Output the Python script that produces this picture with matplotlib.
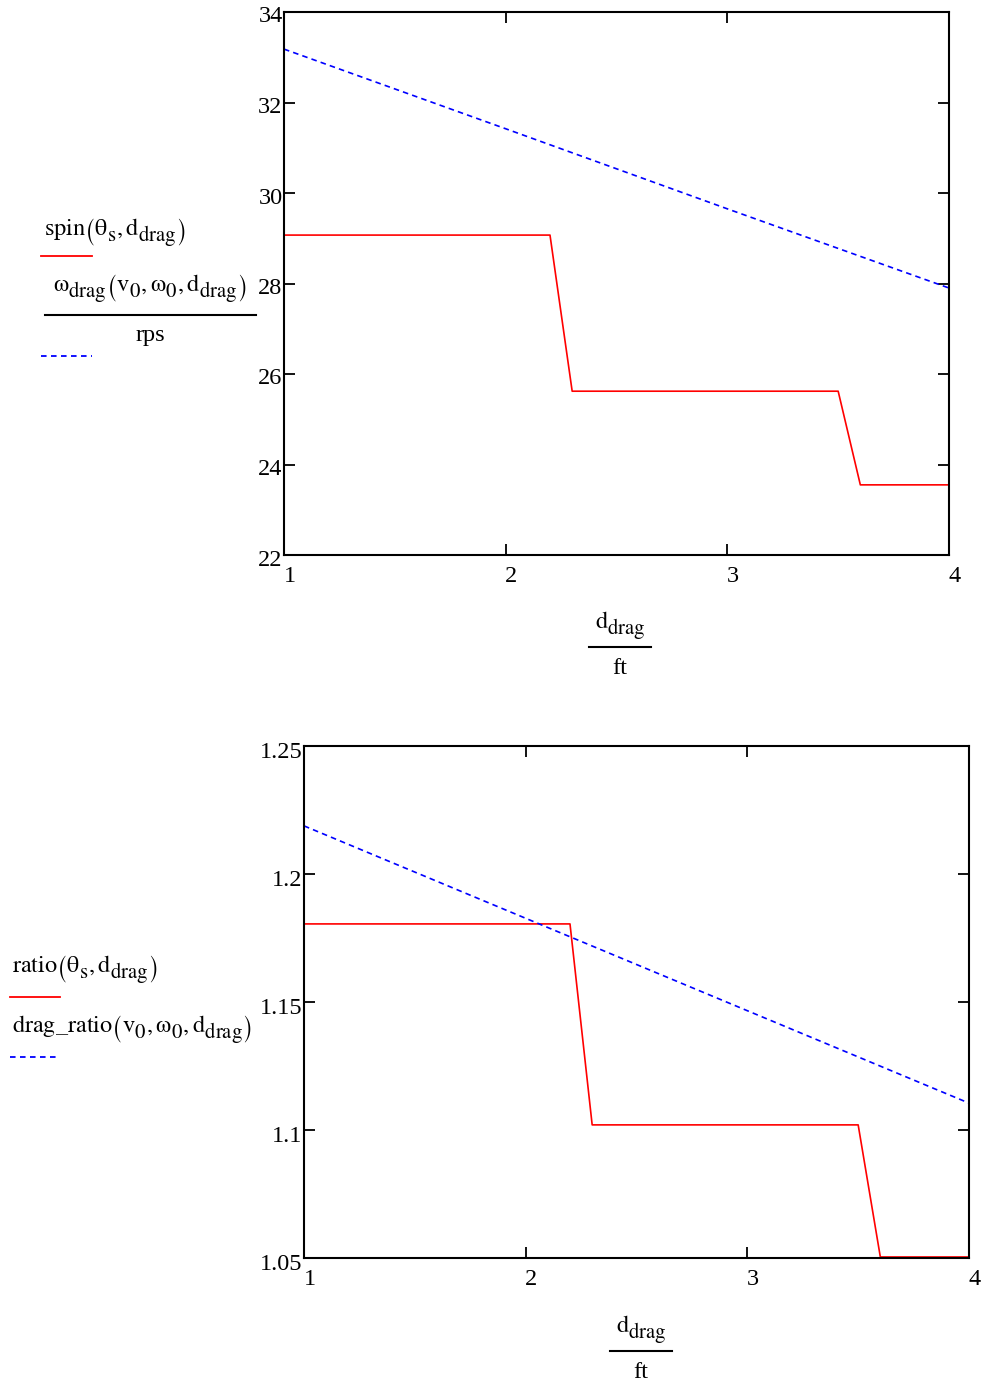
import matplotlib.pyplot as plt
from matplotlib.lines import Line2D
import matplotlib.transforms as mtransforms
import matplotlib._mathtext as mathtext_core

# top plot: spin vs drag distance
d_spin = [1.0, 2.2, 2.3, 3.5, 3.6, 4.0]
spin_rps = [29.07, 29.07, 25.62, 25.62, 23.55, 23.55]
d_wdrag = [1.0, 2.0, 3.0, 4.0]
wdrag_rps = [33.18, 31.42, 29.65, 27.9]

# bottom plot: ratio vs drag distance
d_ratio = [1.0, 2.2, 2.3, 3.5, 3.6, 4.0]
ratio_vals = [1.1805, 1.1805, 1.102, 1.102, 1.0504, 1.0504]
d_dratio = [1.0, 4.0]
dratio_vals = [1.2188, 1.1105]

top_yticks = [22, 24, 26, 28, 30, 32, 34]
bot_yticks = [1.05, 1.1, 1.15, 1.2, 1.25]
bot_ylabels = ['1.05', '1.1', '1.15', '1.2', '1.25']
xticks = [1, 2, 3, 4]

plt.rcParams['font.family'] = 'Liberation Serif'
plt.rcParams['mathtext.fontset'] = 'stix'
plt.rcParams['lines.scale_dashes'] = False
# Mathcad subscripts are barely smaller than the main text and sit lower
mathtext_core.SHRINK_FACTOR = 0.85
mathtext_core.STIXFontConstants.sub1 = 0.55
mathtext_core.STIXFontConstants.sub2 = 0.75

W, H = 984, 1384
fig = plt.figure(figsize=(W / 100, H / 100), dpi=100)

def fx(x):
    return x / W

def fy(y):
    return 1 - y / H

def setup(ax, yticks, ylabels, ylim, ydown):
    ax.set_xlim(1, 4)
    ax.set_ylim(*ylim)
    ax.set_xticks(xticks)
    ax.set_xticklabels([str(t) for t in xticks])
    ax.set_yticks(yticks)
    ax.set_yticklabels(ylabels)
    ax.tick_params(direction='in', length=8, width=1.3, top=True, right=True,
                   labelsize=17.5, colors='black')
    ax.tick_params(axis='x', pad=8)
    ax.tick_params(axis='y', pad=1)
    for s in ax.spines.values():
        s.set_linewidth(1.5)
    xshift = mtransforms.ScaledTranslation(5.5 / 100, 0, fig.dpi_scale_trans)
    for lab in ax.get_xticklabels():
        lab.set_transform(lab.get_transform() + xshift)
    yshift = mtransforms.ScaledTranslation(0, -ydown / 100, fig.dpi_scale_trans)
    for lab in ax.get_yticklabels():
        lab.set_transform(lab.get_transform() + yshift)

# ---------------- top
ax1 = fig.add_axes([fx(284), fy(555), fx(949) - fx(284), fy(12) - fy(555)])
ax1.plot(d_spin, spin_rps, color='#ff0000', lw=1.2)
l, = ax1.plot(d_wdrag, wdrag_rps, color='#0000ff', lw=1.2)
l.set_dashes([4, 3])
setup(ax1, top_yticks, [str(t) for t in top_yticks], (22, 34), 2.5)

# ---------------- bottom
ax2 = fig.add_axes([fx(304), fy(1258), fx(969) - fx(304), fy(746) - fy(1258)])
ax2.plot(d_ratio, ratio_vals, color='#ff0000', lw=1.2)
l2, = ax2.plot(d_dratio, dratio_vals, color='#0000ff', lw=1.2)
l2.set_dashes([4, 3])
setup(ax2, bot_yticks, bot_ylabels, (1.05, 1.25), 4.5)

# ---------------- legends (drawn by hand, Mathcad style)
fs = 17.5

def hline(x0, x1, y, color, dashed=False, lw=1.3):
    ln = Line2D([fx(x0), fx(x1)], [fy(y), fy(y)], transform=fig.transFigure,
                color=color, lw=lw)
    if dashed:
        ln.set_dashes([4, 3.2])
    fig.add_artist(ln)

fig.text(fx(44), fy(233), r'$\mathrm{spin}\left(\mathrm{\theta}_{\mathrm{s}},\mathrm{d}_{\mathrm{drag}}\right)$',
         fontsize=fs, ha='left', va='center')
hline(41, 92, 256, '#ff0000')
fig.text(fx(150), fy(289), r'$\mathrm{\omega}_{\mathrm{drag}}\left(\mathrm{v}_{0},\mathrm{\omega}_{0},\mathrm{d}_{\mathrm{drag}}\right)$',
         fontsize=fs, ha='center', va='center')
hline(45, 256, 315, 'black', lw=1.5)
fig.text(fx(150), fy(336), 'rps', fontsize=fs, ha='center', va='center')
hline(41, 92, 356, '#0000ff', dashed=True)

fig.text(fx(12), fy(970), r'$\mathrm{ratio}\left(\mathrm{\theta}_{\mathrm{s}},\mathrm{d}_{\mathrm{drag}}\right)$',
         fontsize=fs, ha='left', va='center')
hline(10, 60, 997, '#ff0000')
fig.text(fx(12), fy(1030), r'$\mathrm{drag\_ratio}\left(\mathrm{v}_{0},\mathrm{\omega}_{0},\mathrm{d}_{\mathrm{drag}}\right)$',
         fontsize=fs, ha='left', va='center')
hline(10, 60, 1057, '#0000ff', dashed=True)

# ---------------- x axis labels (fraction)
for cx, ytop, yline in [(620, 626, 647), (641, 1330, 1351)]:
    fig.text(fx(cx), fy(ytop), r'$\mathrm{d}_{\mathrm{drag}}$', fontsize=fs,
             ha='center', va='center')
    hline(cx - 31, cx + 31, yline, 'black', lw=1.5)
    fig.text(fx(cx), fy(ytop + 42), 'ft', fontsize=fs, ha='center', va='center')

fig.savefig('out.png', dpi=100)
